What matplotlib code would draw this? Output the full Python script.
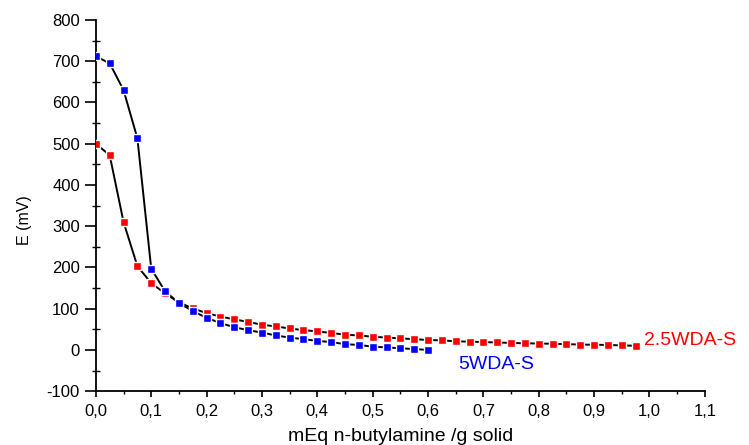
import matplotlib.pyplot as plt
from matplotlib.ticker import MultipleLocator, FuncFormatter

plt.rcParams['font.family'] = ['Liberation Sans', 'DejaVu Sans']

# 5WDA-S (blu)
x_5 = [i * 0.025 for i in range(25)]
e_5 = [712, 695, 630, 513, 197, 142, 114, 94, 78, 65, 55, 48, 42, 35, 30,
       26, 22, 19, 14, 12, 8, 6, 4, 2, 0]

# 2.5WDA-S (rosso)
x_25 = [i * 0.025 for i in range(40)]
e_25 = [500, 472, 310, 203, 162, 137, 115, 101, 89, 81, 74, 68, 61, 57, 52,
        48, 45, 41, 37, 35, 32, 30, 28, 26, 24, 23, 21, 20, 19, 18,
        17, 16, 15.5, 15, 14, 13, 12.5, 12, 11, 10]

fig = plt.figure(figsize=(7.49, 4.45), dpi=100)
ax = fig.add_axes([0.128, 0.121, 0.813, 0.834])

for x, y, c in [(x_25, e_25, 'red'), (x_5, e_5, 'blue')]:
    ax.plot(x, y, color='black', lw=1.4, zorder=2)
    ax.plot(x, y, ls='none', marker='s', ms=5.5, mfc=c, mec='white', mew=1.0, zorder=3)

ax.text(0.99, 24, '2.5WDA-S', color='red', fontsize=14, va='center', ha='left')
ax.text(0.655, -36, '5WDA-S', color='blue', fontsize=14, va='center', ha='left')

ax.set_xlim(0, 1.1)
ax.set_ylim(-100, 800)
ax.xaxis.set_major_locator(MultipleLocator(0.1))
ax.xaxis.set_minor_locator(MultipleLocator(0.05))
ax.yaxis.set_major_locator(MultipleLocator(100))
ax.yaxis.set_minor_locator(MultipleLocator(50))
ax.xaxis.set_major_formatter(FuncFormatter(lambda v, p: f"{v:.1f}".replace('.', ',')))
ax.yaxis.set_major_formatter(FuncFormatter(lambda v, p: f"{v:.0f}".replace('\u2212', '-')))

for s in ['top', 'right']:
    ax.spines[s].set_visible(False)
for s in ['left', 'bottom']:
    ax.spines[s].set_linewidth(1.3)

ax.tick_params(axis='y', which='major', direction='out', length=8, width=1.2, labelsize=12)
ax.tick_params(axis='y', which='minor', direction='inout', length=6, width=1.0)
ax.tick_params(axis='x', which='major', direction='out', length=4.5, width=1.2, labelsize=12, pad=5)
ax.tick_params(axis='x', which='minor', direction='out', length=2.5, width=1.0)

ax.set_xlabel('mEq n-butylamine /g solid', fontsize=14)
ax.xaxis.set_label_coords(0.5, -0.10)
ax.set_ylabel('E (mV)', fontsize=11.5)
ax.yaxis.set_label_coords(-0.105, 0.46)

fig.savefig('out.png', dpi=100)
